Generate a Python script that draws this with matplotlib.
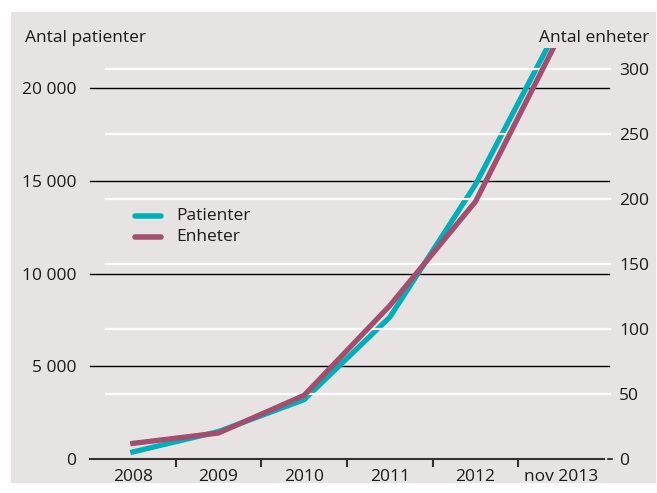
import matplotlib
matplotlib.use("Agg")
import matplotlib.pyplot as plt
from matplotlib.patches import Rectangle
from matplotlib.ticker import FuncFormatter

categories = ["2008", "2009", "2010", "2011", "2012", "nov 2013"]
patienter = [380, 1480, 3200, 7650, 14800, 23600]
enheter = [12, 20, 49, 118, 198, 328]
left_ticks = [0, 5000, 10000, 15000, 20000]
right_ticks = [0, 50, 100, 150, 200, 250, 300]

BG = "#e8e3e3"
CYAN = "#00b0b9"
MAG = "#a34e6e"
FS = 12.5

plt.rcParams['font.family'] = ['Open Sans', 'DejaVu Sans']
fig = plt.figure(figsize=(6.57, 4.93), dpi=100)
fig.patch.set_facecolor("white")
W, H = 657, 493
fig.patches.append(Rectangle((11 / W, 1 - 483 / H), (656 - 11) / W, (483 - 12) / H,
                             transform=fig.transFigure, facecolor=BG, edgecolor="none", zorder=-10))

x0, x1 = 90, 604
ytop, ybot = 48, 459
ax = fig.add_axes([x0 / W, 1 - ybot / H, (x1 - x0) / W, (ybot - ytop) / H])
ax.set_facecolor("none")
n = len(categories)
ax.set_xlim(-0.5, n - 0.5)
ltop = (ybot - ytop) * 20000 / (459 - 88)
rtop = (ybot - ytop) * 300 / (459 - 69)
ax.set_ylim(0, ltop)
ax2 = ax.twinx()
ax2.set_ylim(0, rtop)
ax2.set_facecolor("none")

for s in ax.spines.values():
    s.set_visible(False)
for s in ax2.spines.values():
    s.set_visible(False)
ax.spines['bottom'].set_visible(True)
ax.spines['bottom'].set_color("#333333")
ax.spines['bottom'].set_linewidth(1.5)

# gridlines
for t in left_ticks[1:]:
    ax.axhline(t, xmin=0, xmax=1.01, color="black", lw=1.0, zorder=1, clip_on=False)
for t in right_ticks[1:]:
    ax2.plot([-0.5 + (106 - 90) / (x1 - x0) * n, n - 0.5 + 6 / (x1 - x0) * n], [t, t],
             color="white", lw=1.6, zorder=0, clip_on=False)

ax.set_yticks(left_ticks)
ax.yaxis.set_major_formatter(FuncFormatter(lambda v, p: f"{int(v):,}".replace(",", " ")))
ax.tick_params(axis="y", length=0, pad=10, labelsize=FS, labelcolor="#1a1a1a")
ax2.set_yticks(right_ticks)
ax2.tick_params(axis="y", length=0, pad=11, labelsize=FS, labelcolor="#1a1a1a")

ax.set_xticks(range(n))
ax.set_xticklabels(categories)
ax.set_xticks([i + 0.5 for i in range(n - 1)], minor=True)
ax.tick_params(axis="x", which="major", length=0, pad=7, labelsize=FS, labelcolor="#1a1a1a")
ax.tick_params(axis="x", which="minor", length=6, width=1.5, color="#333333", direction="out")

xs = list(range(n))
ax.plot(xs, patienter, color=CYAN, lw=3.8, zorder=3, solid_joinstyle="miter")
ax2.plot(xs, enheter, color=MAG, lw=3.8, zorder=3, solid_joinstyle="miter")

# small dash before the right-axis zero
fig.lines.append(plt.Line2D([608 / W, 612 / W], [1 - 459 / H, 1 - 459 / H], transform=fig.transFigure,
                            color="#1a1a1a", lw=1.2))

fig.text(25 / W, 1 - 38 / H, "Antal patienter", fontsize=FS, color="#1a1a1a", va="center", ha="left")
fig.text(649 / W, 1 - 38 / H, "Antal enheter", fontsize=FS, color="#1a1a1a", va="center", ha="right")

# legend
for yy, col, lab in [(216, CYAN, "Patienter"), (237, MAG, "Enheter")]:
    fig.lines.append(plt.Line2D([135 / W, 161 / W], [1 - yy / H, 1 - yy / H], transform=fig.transFigure,
                                color=col, lw=4, solid_capstyle="round"))
    fig.text(176 / W, 1 - yy / H, lab, fontsize=FS, color="#1a1a1a", va="center", ha="left")

fig.savefig("out.png", dpi=100, facecolor="white")
